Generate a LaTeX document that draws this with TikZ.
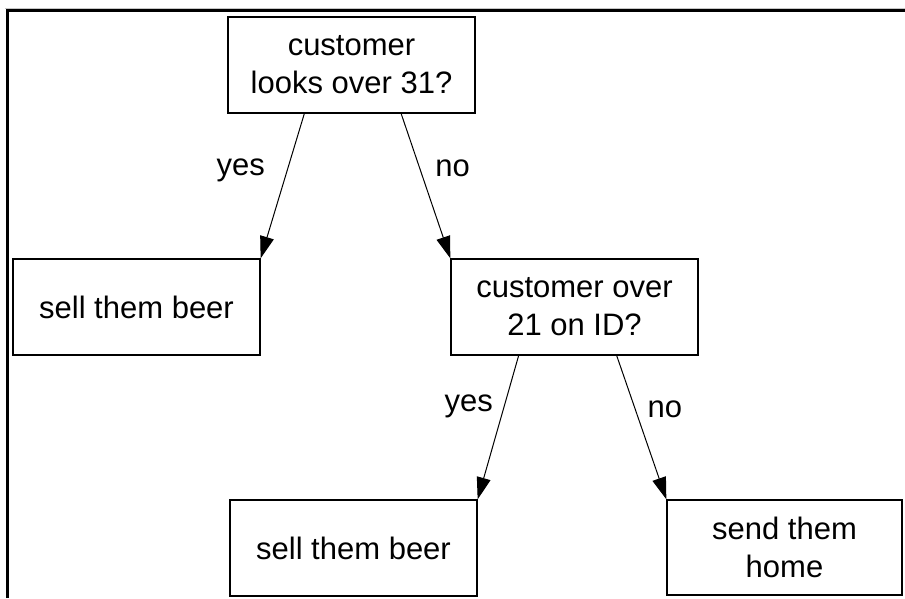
\documentclass[tikz,border=0pt]{standalone}
\usepackage{fontspec}
\setmainfont{Liberation Sans}
\usetikzlibrary{arrows.meta, calc}

\begin{document}
\begin{tikzpicture}[
    x=1pt, y=-1pt,
    font=\fontsize{31}{38}\selectfont,
    choicebox/.style={draw, line width=1.3pt, minimum width=247pt, minimum height=96pt, align=center, inner sep=0pt},
    arrow/.style={-{Triangle[length=22pt, width=14pt]}, line width=1pt},
    answer/.style={inner sep=0pt}
]
\useasboundingbox (0,0) rectangle (905,598);

% === FRAME ===
\draw[gray!45, line width=1pt] (5,8) -- (905,8);
\draw[line width=3pt] (7.5,598) -- (7.5,10.5) -- (905,10.5);

% === BOXES ===
\node[choicebox] (looks) at (351.5, 65) {customer\\looks over 31?};
\node[choicebox] (sell1) at (136.5, 307) {sell them beer};
\node[choicebox] (idcheck) at (574.5, 307) {customer over\\21 on ID?};
\node[choicebox] (sell2) at (353.5, 548) {sell them beer};
\node[choicebox, minimum width=235pt, minimum height=95pt] (home) at (784.5, 547.5) {send them\\home};

% === ARROWS ===
\draw[arrow] ($(looks.south west)!0.31!(looks.south east)$) -- (sell1.north east)
    node[answer, pos=0.39, left=22pt] {yes};
\draw[arrow] ($(looks.south west)!0.70!(looks.south east)$) -- (idcheck.north west)
    node[answer, pos=0.38, right=15pt] {no};
\draw[arrow] ($(idcheck.south west)!0.275!(idcheck.south east)$) -- (sell2.north east)
    node[answer, pos=0.35, left=11pt] {yes};
\draw[arrow] ($(idcheck.south west)!0.67!(idcheck.south east)$) -- (home.north west)
    node[answer, pos=0.37, right=12pt] {no};

\end{tikzpicture}
\end{document}
